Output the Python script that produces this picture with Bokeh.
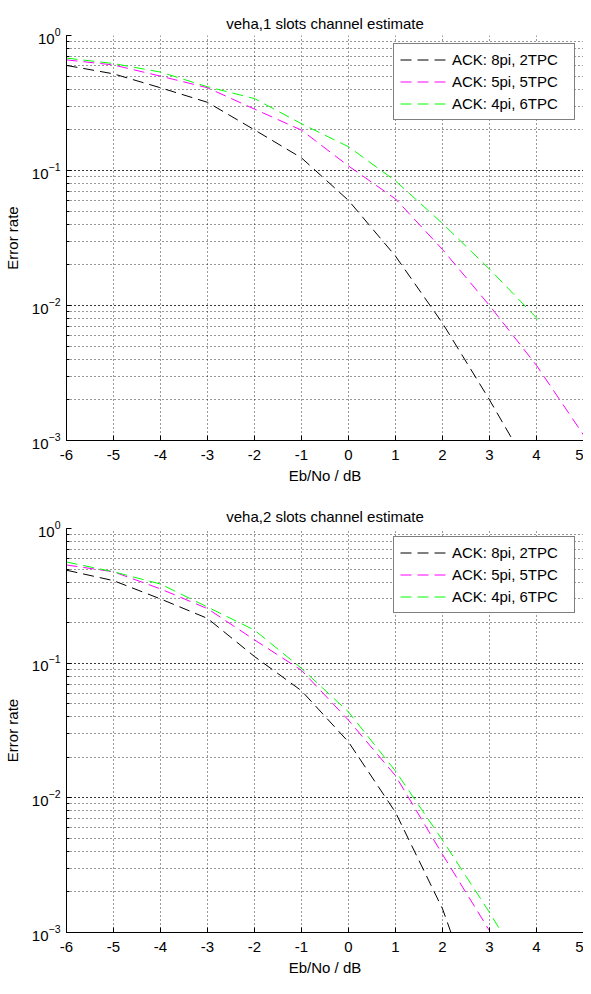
from bokeh.plotting import figure
from bokeh.layouts import column
from bokeh.models import Range1d, LogTicker, SingleIntervalTicker, Legend, LegendItem
from bokeh.embed import file_html
from bokeh.resources import INLINE

# ---- data ----
titles = ["veha,1 slots channel estimate", "veha,2 slots channel estimate"]
labels = ["ACK: 8pi, 2TPC", "ACK: 5pi, 5TPC", "ACK: 4pi, 6TPC"]
colors = ["#000000", "#ff00ff", "#00ff00"]
x_ticks = [-6, -5, -4, -3, -2, -1, 0, 1, 2, 3, 4, 5]
x_label = "Eb/No / dB"
y_label = "Error rate"

# slots = 1
x1_black = [-6, -5, -4, -3, -2, -1, 0, 1, 2, 3, 4]
y1_black = [0.60, 0.52, 0.41, 0.32, 0.20, 0.124, 0.060, 0.0232, 0.0074, 0.0020, 0.0005]
x1_mag = [-6, -5, -4, -3, -2, -1, 0, 1, 2, 3, 4, 5]
y1_mag = [0.66, 0.605, 0.50, 0.41, 0.285, 0.199, 0.108, 0.0616, 0.026, 0.0100, 0.0036, 0.0011]
x1_green = [-6, -5, -4, -3, -2, -1, 0, 1, 2, 3, 4, 4.1]
y1_green = [0.68, 0.62, 0.536, 0.417, 0.341, 0.222, 0.150, 0.0838, 0.0405, 0.0186, 0.0081, 0.0072]

# slots = 2
x2_black = [-6, -5, -4, -3, -2, -1, 0, 1, 2, 2.18]
y2_black = [0.49, 0.41, 0.30, 0.215, 0.112, 0.0624, 0.026, 0.0078, 0.0015, 0.001]
x2_mag = [-6, -5, -4, -3, -2, -1, 0, 1, 2, 3]
y2_mag = [0.536, 0.477, 0.356, 0.254, 0.149, 0.0885, 0.0377, 0.0146, 0.0038, 0.00103]
x2_green = [-6, -5, -4, -3, -2, -1, 0, 1, 2, 3, 3.26]
y2_green = [0.564, 0.477, 0.387, 0.261, 0.176, 0.0915, 0.0434, 0.0158, 0.00485, 0.00141, 0.001]

x_range = (-6, 5)
y_range = (1e-3, 1)

FONT = "Liberation Sans"
FS = "15px"


def make_plot(title, series, height, top, bottom):
    p = figure(width=583, height=height, x_range=Range1d(*x_range), y_range=Range1d(*y_range),
               y_axis_type="log", output_backend="svg", toolbar_location=None,
               min_border_left=65, min_border_right=0, min_border_top=top, min_border_bottom=bottom)
    p.outline_line_color = None
    p.background_fill_color = "white"
    p.border_fill_color = "white"

    p.title.text = title
    p.title.align = "center"
    p.title.text_font = FONT
    p.title.text_font_size = FS
    p.title.text_font_style = "normal"
    p.title.text_color = "black"
    p.title.standoff = 7

    p.xaxis.ticker = SingleIntervalTicker(interval=1, num_minor_ticks=0)
    p.xaxis.major_label_overrides = {t: str(t) for t in x_ticks}
    p.yaxis.ticker = LogTicker(num_minor_ticks=10)

    for ax in (p.xaxis[0], p.yaxis[0]):
        ax.axis_line_color = "black"
        ax.axis_line_width = 1
        ax.major_tick_line_color = "black"
        ax.minor_tick_line_color = "black"
        ax.major_tick_in = 5
        ax.major_tick_out = 0
        ax.minor_tick_in = 3
        ax.minor_tick_out = 0
        ax.major_label_text_font = FONT
        ax.major_label_text_font_size = FS
        ax.major_label_text_color = "black"
        ax.axis_label_text_font = FONT
        ax.axis_label_text_font_size = FS
        ax.axis_label_text_font_style = "normal"
        ax.axis_label_text_color = "black"
    p.xaxis.axis_label = x_label
    p.yaxis.axis_label = y_label
    p.xaxis.major_label_standoff = 9
    p.xaxis.axis_label_standoff = 4
    p.yaxis.major_label_standoff = 6
    p.yaxis.axis_label_standoff = 8

    p.xgrid.grid_line_color = "black"
    p.xgrid.grid_line_dash = "1 3"
    p.xgrid.grid_line_alpha = 0.8
    p.ygrid.grid_line_color = "black"
    p.ygrid.grid_line_dash = "1 3"
    p.ygrid.grid_line_alpha = 0.8
    p.ygrid.minor_grid_line_color = "black"
    p.ygrid.minor_grid_line_dash = "1 3"
    p.ygrid.minor_grid_line_alpha = 0.8

    items = []
    for (xs, ys), lab, col in zip(series, labels, colors):
        r = p.line(xs, ys, line_color=col, line_width=1, line_dash="11 6")
        items.append(LegendItem(label=lab, renderers=[r]))

    leg = Legend(items=items, location="top_right")
    leg.margin = 8
    leg.padding = 6
    leg.spacing = 3
    leg.label_height = 19
    leg.glyph_height = 19
    leg.glyph_width = 48
    leg.label_standoff = 4
    leg.label_width = 116
    leg.label_text_font = FONT
    leg.label_text_font_size = FS
    leg.label_text_color = "black"
    leg.border_line_color = "black"
    leg.border_line_width = 1
    leg.background_fill_color = "white"
    leg.background_fill_alpha = 1
    p.add_layout(leg, "center")
    return p


p1 = make_plot(titles[0], [(x1_black, y1_black), (x1_mag, y1_mag), (x1_green, y1_green)],
               height=493, top=35, bottom=53)
p2 = make_plot(titles[1], [(x2_black, y2_black), (x2_mag, y2_mag), (x2_green, y2_green)],
               height=485, top=35, bottom=44)

layout = column(p1, p2, spacing=0)
open("out.html", "w").write(file_html(layout, INLINE))
